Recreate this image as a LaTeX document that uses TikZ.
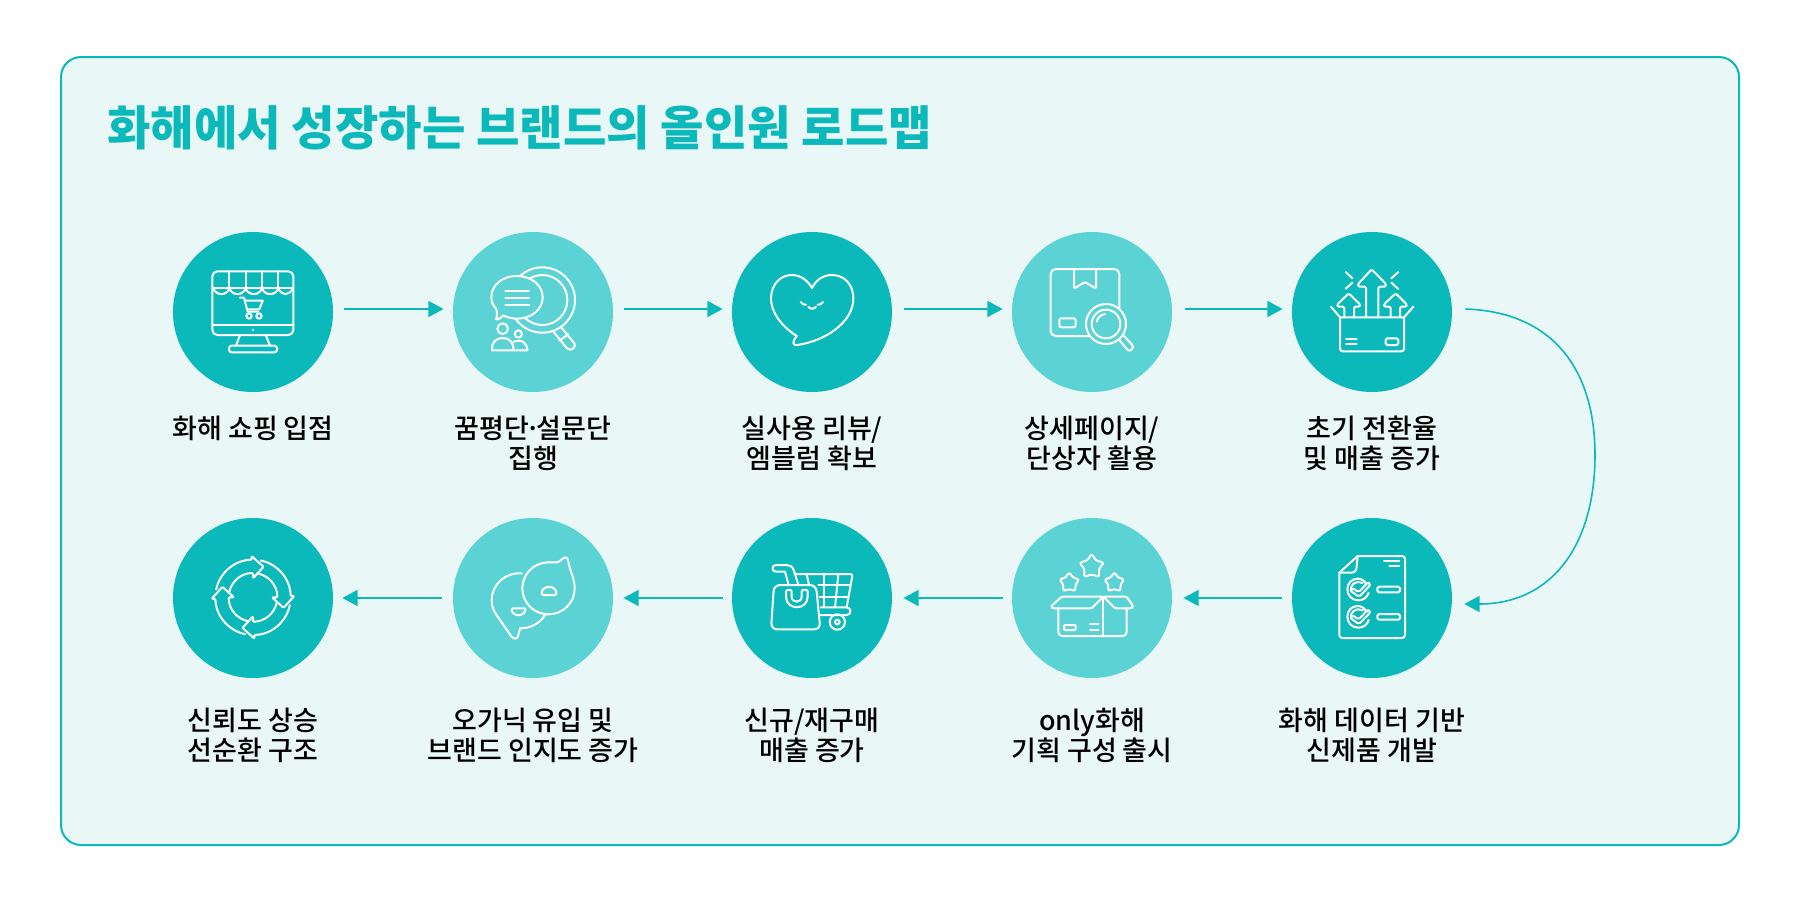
\documentclass[tikz,border=0pt]{standalone}
\usepackage{fontspec}
\newfontfamily\kr{Noto Sans CJK KR Medium}
\newfontfamily\krb{Noto Sans CJK KR}
\usetikzlibrary{arrows.meta}
\definecolor{teal1}{HTML}{0BB8BA}
\definecolor{teal2}{HTML}{5BD2D4}
\definecolor{panelbg}{HTML}{E9F8F7}
\definecolor{ink}{HTML}{000000}
\tikzset{
  panelbox/.style={draw=teal1,line width=1pt,fill=panelbg,rounded corners=10pt,minimum width=839pt,minimum height=394pt,inner sep=0pt},
  titletext/.style={text=teal1,font=\krb\bfseries\fontsize{23.6}{28}\selectfont,anchor=west,inner sep=0pt},
  darkc/.style={circle,fill=teal1,minimum size=80pt,inner sep=0pt},
  lightc/.style={circle,fill=teal2,minimum size=80pt,inner sep=0pt},
  lab/.style={text=ink,font=\kr\fontsize{13.5}{15}\selectfont,align=center,anchor=north,inner sep=0pt},
  conn/.style={draw=teal1,line width=0.8pt,-{Triangle[length=7.6pt,width=8pt]}},
  icon/.style={draw=white,line width=1pt,line cap=round,line join=round},
  zoomat/.style 2 args={shift={(#1,#2)},x=0.16667pt,y=-0.16667pt},
}
\newcommand\rstar[3]{\draw[icon,rounded corners=1.3pt]
  ([shift={(#1,#2)}]-90:#3) -- ([shift={(#1,#2)}]-54:#3*0.58) -- ([shift={(#1,#2)}]-18:#3) -- ([shift={(#1,#2)}]18:#3*0.58) -- ([shift={(#1,#2)}]54:#3) -- ([shift={(#1,#2)}]90:#3*0.58) -- ([shift={(#1,#2)}]126:#3) -- ([shift={(#1,#2)}]162:#3*0.58) -- ([shift={(#1,#2)}]198:#3) -- ([shift={(#1,#2)}]234:#3*0.58) -- cycle;}
\newcommand\checkitem[1]{%
  \draw[icon] (410,#1-14) .. controls (403,#1-26) and (395,#1-32) .. (383,#1-32) .. controls (365,#1-32) and (352,#1-18) .. (352,#1) .. controls (352,#1+18) and (366,#1+33) .. (385,#1+33) .. controls (400,#1+33) and (412,#1+24) .. (416,#1+10);
  \draw[icon] (398,#1-19) .. controls (393,#1-21) and (389,#1-22) .. (385,#1-22) .. controls (373,#1-22) and (363,#1-12) .. (363,#1-2);
  \draw[icon,rounded corners=1pt] (367,#1-5) -- (386,#1+9) -- (414,#1-22) -- (422,#1-14) -- (387,#1+23) -- (360,#1+3) -- cycle;
  \draw[icon,rounded corners=0.8pt] (442,#1-8) rectangle (510,#1+9);
}
\begin{document}
\begin{tikzpicture}[x=0.5pt,y=-0.5pt]
\useasboundingbox (0,0) rectangle (1800,900);
\node[panelbox] (panel) at (900,451) {};
\node[titletext] (title) at (107,128) {화해에서 성장하는 브랜드의 올인원 로드맵};

\node[darkc]  (c1)  at (253,312) {};
\node[lightc] (c2)  at (533,312) {};
\node[darkc]  (c3)  at (812,312) {};
\node[lightc] (c4)  at (1092,312) {};
\node[darkc]  (c5)  at (1372,312) {};
\node[darkc]  (c6)  at (1372,598) {};
\node[lightc] (c7)  at (1092,598) {};
\node[darkc]  (c8)  at (812,598) {};
\node[lightc] (c9)  at (533,598) {};
\node[darkc]  (c10) at (253,598) {};

\node[lab] (l1)  at (253,416) {화해 쇼핑 입점};
\node[lab] (l2)  at (533,416) {꿈평단\kern-0.14em·\kern-0.14em설문단\\집행};
\node[lab] (l3)  at (812,416) {실사용 리뷰/\\엠블럼 확보};
\node[lab] (l4)  at (1092,416) {상세페이지/\\단상자 활용};
\node[lab] (l5)  at (1372,416) {초기 전환율\\및 매출 증가};
\node[lab] (l6)  at (1372,708) {화해 데이터 기반\\신제품 개발};
\node[lab] (l7)  at (1092,708) {only화해\\기획 구성 출시};
\node[lab] (l8)  at (812,708) {신규/재구매\\매출 증가};
\node[lab] (l9)  at (533,708) {오가닉 유입 및\\브랜드 인지도 증가};
\node[lab] (l10) at (253,708) {신뢰도 상승\\선순환 구조};

\draw[conn] ([shift={(11,-3)}]c1.east) -- ([shift={(-9,-3)}]c2.west);
\draw[conn] ([shift={(11,-3)}]c2.east) -- ([shift={(-9,-3)}]c3.west);
\draw[conn] ([shift={(12,-3)}]c3.east) -- ([shift={(-9,-3)}]c4.west);
\draw[conn] ([shift={(13,-3)}]c4.east) -- ([shift={(-9,-3)}]c5.west);
\draw[conn] ([shift={(13,-3)}]c5.east) .. controls (1555,312) and (1595,372) .. (1595,455) .. controls (1595,545) and (1552,604) .. ([shift={(12,6)}]c6.east);
\draw[conn] ([shift={(-10,0)}]c6.west) -- ([shift={(11,0)}]c7.east);
\draw[conn] ([shift={(-9,0)}]c7.west) -- ([shift={(11,0)}]c8.east);
\draw[conn] ([shift={(-9,0)}]c8.west) -- ([shift={(10,0)}]c9.east);
\draw[conn] ([shift={(-11,0)}]c9.west) -- ([shift={(9,0)}]c10.east);

% icon 1: shop monitor
\begin{scope}[zoomat={150}{210}]
\draw[icon,rounded corners=2.5pt] (187,184) rectangle (430,375);
\draw[icon] (187,345) -- (430,345);
\foreach \x in {238,287,336,385} \draw[icon] (\x,184) -- (\x,235);
\draw[icon] (187,235) -- (430,235);
\draw[icon] (190,235) .. controls (198,258) and (230,258) .. (238,235) .. controls (246,258) and (279,258) .. (287,235) .. controls (295,258) and (328,258) .. (336,235) .. controls (344,258) and (377,258) .. (385,235) .. controls (393,258) and (420,258) .. (428,235);
\draw[icon] (270,263) -- (282,263) -- (293,305) -- (325,305);
\draw[icon] (285,272) -- (338,272) -- (328,298) -- (292,298);
\draw[icon] (297,318) circle[radius=8];
\draw[icon] (327,318) circle[radius=8];
\fill[white] (309,359) circle[radius=3.5];
\draw[icon] (270,375) -- (258,407);
\draw[icon] (347,375) -- (360,407);
\draw[icon,rounded corners=1.3pt] (237,407) rectangle (381,427);
\end{scope}

% icon 2: review search
\begin{scope}[zoomat={150}{210}]
\draw[icon] (1210,365) -- (1250,414) .. controls (1262,428) and (1284,410) .. (1270,396) -- (1232,350);
\draw[icon] (1228,392) -- (1255,373);
\draw[icon] (1177,270) circle[radius=98];
\draw[icon] (1177,270) circle[radius=75];
\draw[icon,fill=teal2] (1100,198) .. controls (1145,198) and (1178,226) .. (1178,262) .. controls (1178,298) and (1145,326) .. (1100,326) .. controls (1085,326) and (1072,322) .. (1060,316) .. controls (1052,324) and (1044,330) .. (1038,328) .. controls (1042,318) and (1042,306) .. (1038,296) .. controls (1028,286) and (1024,274) .. (1024,262) .. controls (1024,226) and (1056,198) .. (1100,198) -- cycle;
\foreach \y in {243,264,285} \draw[icon] (1066,\y) -- (1137,\y);
\draw[icon] (1058,356) circle[radius=16];
\draw[icon] (1026,421) .. controls (1024,395) and (1040,384) .. (1058,384) .. controls (1076,384) and (1092,395) .. (1090,421) -- cycle;
\draw[icon] (1105,372) circle[radius=11];
\draw[icon] (1090,396) .. controls (1097,392) and (1112,390) .. (1120,396) .. controls (1128,402) and (1132,410) .. (1132,421) -- (1090,421);
\end{scope}

% icon 3: heart
\begin{scope}[zoomat={700}{210}]
\draw[icon] (336,234) .. controls (345,215) and (365,195) .. (395,195) .. controls (435,195) and (460,225) .. (460,265) .. controls (460,340) and (370,395) .. (290,405) .. controls (278,407) and (276,395) .. (290,378) .. controls (240,345) and (213,305) .. (213,265) .. controls (213,225) and (240,195) .. (275,195) .. controls (305,195) and (325,215) .. (336,234) -- cycle;
\draw[icon] (302,276) .. controls (306,283) and (313,285) .. (318,284);
\draw[icon] (353,284) .. controls (358,285) and (365,283) .. (369,276);
\draw[icon] (325,290) .. controls (329,298) and (344,298) .. (348,290);
\end{scope}

% icon 4: box search
\begin{scope}[zoomat={700}{210}]
\draw[icon,rounded corners=2.5pt] (1052,177) rectangle (1258,378);
\draw[icon,rounded corners=0.6pt] (1122,177) -- (1122,236) -- (1155,216) -- (1188,236) -- (1188,177);
\draw[icon,rounded corners=1pt] (1078,325) rectangle (1127,352);
\draw[icon] (1256,388) -- (1283,420) .. controls (1290,428) and (1305,412) .. (1296,404) -- (1270,376);
\draw[icon,fill=teal2] (1218,342) circle[radius=60];
\draw[icon] (1218,342) circle[radius=43];
\draw[icon] (1190,335) .. controls (1193,322) and (1203,314) .. (1215,312);
\end{scope}

% icon 5: open box with arrows
\begin{scope}[zoomat={1230}{210}]
\draw[icon,rounded corners=1.3pt] (330,322) -- (330,424) -- (522,424) -- (522,322);
\draw[icon] (303,290) -- (330,322) -- (522,322) -- (550,290);
\draw[icon,rounded corners=0.7pt] (408,320) -- (408,230) -- (384,230) -- (384,222) -- (425,178) -- (468,222) -- (468,230) -- (445,230) -- (445,320);
\draw[icon,rounded corners=0.7pt] (343,320) -- (343,290) -- (322,290) -- (322,283) -- (356,250) -- (390,283) -- (390,290) -- (372,290) -- (372,320);
\draw[icon,rounded corners=0.7pt] (482,320) -- (482,290) -- (462,290) -- (462,283) -- (497,250) -- (530,283) -- (530,290) -- (510,290) -- (510,320);
\draw[icon] (347,186) -- (367,205);
\draw[icon] (347,236) -- (367,218);
\draw[icon] (505,186) -- (484,205);
\draw[icon] (505,237) -- (484,218);
\draw[icon] (348,387) -- (380,387);
\draw[icon] (348,403) -- (380,403);
\draw[icon,rounded corners=0.8pt] (467,385) rectangle (505,405);
\end{scope}

% icon 6: checklist
\begin{scope}[zoomat={1230}{500}]
\draw[icon,rounded corners=1.5pt] (383,168) -- (525,168) -- (525,414) -- (328,414) -- (328,218);
\draw[icon] (328,218) -- (383,168);
\draw[icon,rounded corners=2pt] (328,218) -- (378,218) -- (383,168);
\draw[icon] (462,182) -- (508,182);
\draw[icon] (478,198) -- (508,198);
\checkitem{268}
\checkitem{350}
\end{scope}

% icon 7: gift box with stars
\begin{scope}[zoomat={700}{500}]
\rstar{1175}{200}{39}
\rstar{1108}{248}{32}
\rstar{1243}{248}{32}
\draw[icon,rounded corners=2pt] (1075,325) -- (1075,408) -- (1280,408) -- (1280,325);
\draw[icon,rounded corners=0.7pt] (1052,320) -- (1085,290) -- (1210,290) -- (1175,325) -- (1058,325) -- cycle;
\draw[icon,rounded corners=0.7pt] (1210,290) -- (1280,290) -- (1300,320) -- (1295,325) -- (1245,325) -- cycle;
\draw[icon] (1210,290) -- (1210,408);
\draw[icon,rounded corners=0.5pt] (1092,375) rectangle (1127,390);
\draw[icon] (1170,373) -- (1195,373);
\draw[icon] (1170,390) -- (1195,390);
\end{scope}

% icon 8: cart and bag
\begin{scope}[zoomat={700}{500}]
\draw[icon] (295,255) -- (282,212) .. controls (278,200) and (270,195) .. (260,195) -- (228,195) .. controls (214,195) and (214,215) .. (228,215) -- (255,215) -- (266,255);
\draw[icon,rounded corners=1.2pt] (283,222) -- (458,222) -- (440,322);
\draw[icon] (320,222) -- (327,255);
\draw[icon] (372,222) -- (372,322);
\draw[icon] (415,222) -- (405,322);
\draw[icon] (355,255) -- (451,255);
\draw[icon] (358,290) -- (445,290);
\draw[icon] (362,322) -- (440,322) .. controls (455,322) and (455,345) .. (440,345) -- (362,345);
\draw[icon] (412,366) circle[radius=23];
\draw[icon] (412,366) circle[radius=7];
\draw[icon,fill=teal1,rounded corners=3pt] (222,255) -- (348,255) -- (361,388) -- (213,388) -- cycle;
\draw[icon] (258,274) .. controls (258,268) and (275,268) .. (275,274) -- (275,290) .. controls (275,310) and (305,310) .. (305,290) -- (305,274) .. controls (305,268) and (323,268) .. (323,274) -- (323,290) .. controls (323,332) and (258,332) .. (258,290) -- cycle;
\end{scope}

% icon 9: speech bubbles
\begin{scope}[zoomat={150}{500}]
\draw[icon] (1115,220) .. controls (1065,216) and (1025,255) .. (1025,300) .. controls (1025,330) and (1040,345) .. (1050,360) -- (1083,408) .. controls (1092,420) and (1103,418) .. (1105,405) -- (1110,385) .. controls (1140,385) and (1168,372) .. (1185,345);
\draw[icon,fill=teal2] (1222,187) .. controls (1232,183) and (1240,172) .. (1246,172) .. controls (1252,172) and (1254,178) .. (1255,185) .. controls (1260,215) and (1274,235) .. (1274,265) .. controls (1274,310) and (1238,343) .. (1195,343) .. controls (1152,343) and (1117,308) .. (1117,265) .. controls (1117,222) and (1152,187) .. (1195,187) .. controls (1204,187) and (1213,187) .. (1222,187) -- cycle;
\draw[icon,rounded corners=0.6pt] (1176,285) .. controls (1172,270) and (1186,261) .. (1197,261) .. controls (1208,261) and (1222,270) .. (1218,285) -- cycle;
\draw[icon,rounded corners=0.6pt] (1085,325) .. controls (1085,340) and (1097,345) .. (1105,345) .. controls (1115,345) and (1126,338) .. (1127,325) -- cycle;
\end{scope}

% icon 10: cycle
\begin{scope}[shift={(150,500)},x=0.16667pt,y=0.16667pt,shift={(309,-292)}]
\foreach \a in {0,-90,-180,-270}{
\begin{scope}[rotate=\a]
\draw[icon,rounded corners=0.5pt] (168:113) arc[start angle=168,end angle=92,radius=113] -- (92:124) -- (71:97) -- (90:57) -- (90:73) arc[start angle=90,end angle=170,radius=73];
\end{scope}}
\end{scope}
\end{tikzpicture}
\end{document}
